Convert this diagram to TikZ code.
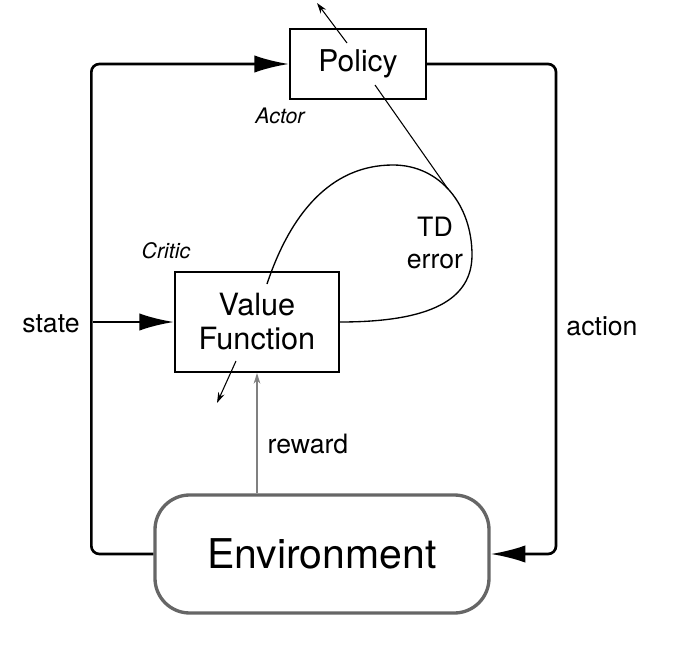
\documentclass[tikz,border=0pt]{standalone}
\usepackage{fontspec}
\setmainfont{TeX Gyre Heros}
\usetikzlibrary{arrows.meta}

\begin{document}
\begin{tikzpicture}[x=0.75pt,y=0.75pt,yscale=-1,xscale=1,
  box/.style={draw,line width=1.5pt,inner sep=0pt,align=center},
  loopline/.style={line width=2pt,rounded corners=6pt},
  bigtip/.style={-{Latex[length=26pt,width=13pt]}},
  smalltip/.style={-{Stealth[length=8pt,width=5pt]}},
  lbl/.style={font=\fontsize{20}{24}\selectfont,inner sep=0pt},
  role/.style={font=\fontsize{16}{19}\selectfont\itshape,inner sep=0pt}]
\useasboundingbox (0,0) rectangle (676,646);

%Shape: Rectangle [policy]
\node[box,minimum width=102pt,minimum height=52.5pt,font=\fontsize{22.5}{27}\selectfont] (policy) at (358,64) {Policy};
%Shape: Rectangle [value function]
\node[box,minimum width=123pt,minimum height=75pt,font=\fontsize{23}{25.5}\selectfont] (vf) at (257,322) {Value\\Function};
%Shape: Rounded Rect [environment]
\node[draw=black!60,line width=2.5pt,rounded corners=26pt,minimum width=250.5pt,minimum height=88.5pt,inner sep=0pt,font=\fontsize{30.75}{36}\selectfont] (env) at (322,554) {Environment};

%Straight Lines [state / action loop]
\draw[loopline,bigtip] (env.west) -- ++(-62,0) |- (policy.west);
\draw[loopline,bigtip] (policy.east) -- ++(129,0) |- (env.east);
\coordinate (fork) at (93,322);
\draw[line width=2pt,bigtip] (fork) -- (vf.west);

%Straight Lines [reward]
\draw[line width=1pt,black!50,smalltip] (env.north -| vf.south) -- (vf.south);

%Straight Lines [updates]
\coordinate (pa) at (347,43);
\coordinate (pb) at (317,3);
\draw[line width=0.8pt,smalltip] (pa) -- (pb);
\coordinate (va) at (236,361);
\coordinate (vb) at (217,403);
\draw[line width=0.8pt,smalltip] (va) -- (vb);

%Curve Lines [td error]
\coordinate (tdend) at (267,284);
\draw[line width=1pt] (vf.east) .. controls (430,322) and (472,300) .. (472,255) .. controls (472,205) and (440,165) .. (393,165) .. controls (330,165) and (290,215) .. (tdend);
\coordinate (tdfrom) at (375,85);
\coordinate (tdto) at (448,189);
\draw[line width=0.8pt] (tdfrom) -- (tdto);

% Text Node
\node[lbl,anchor=base] (statelbl) at (51,332) {state};
% Text Node
\node[lbl,anchor=base] (actionlbl) at (602,335) {action};
% Text Node
\node[lbl,anchor=base] (rewardlbl) at (308,453) {reward};
% Text Node
\node[lbl,align=center,font=\fontsize{20}{24}\selectfont] (tdlbl) at (435,243) {TD\\error};
% Text Node
\node[role,anchor=base] (actorlbl) at (280,123) {Actor};
% Text Node
\node[role,anchor=base] (criticlbl) at (166,258) {Critic};

\end{tikzpicture}
\end{document}
